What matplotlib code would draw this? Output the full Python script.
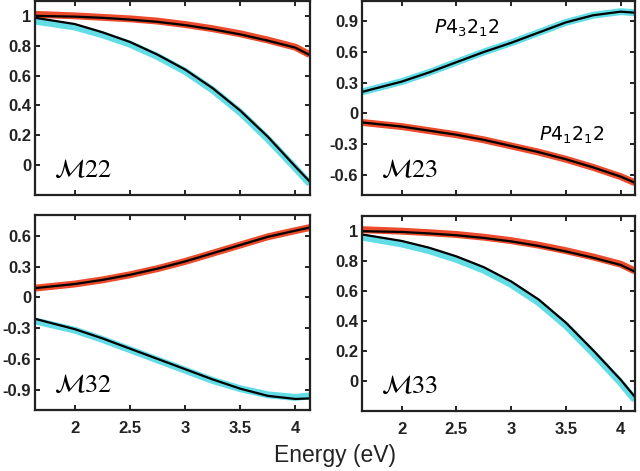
import matplotlib
matplotlib.use('Agg')
import matplotlib.pyplot as plt

plt.rcParams['font.family'] = ['Liberation Sans', 'DejaVu Sans']
plt.rcParams['mathtext.fontset'] = 'stix'

# photon energy (eV)
energy = [1.64, 2.0, 2.25, 2.5, 2.75, 3.0, 3.25, 3.5, 3.75, 4.0, 4.13]

# M22
m22_red = [1.01, 1.0, 0.99, 0.98, 0.965, 0.942, 0.914, 0.88, 0.838, 0.79, 0.74]
m22_red_fit = [1.0, 0.995, 0.987, 0.975, 0.96, 0.938, 0.91, 0.876, 0.834, 0.787, 0.737]
m22_cyan = [0.965, 0.925, 0.873, 0.81, 0.727, 0.628, 0.503, 0.353, 0.175, -0.02, -0.125]
m22_cyan_fit = [0.987, 0.945, 0.89, 0.825, 0.74, 0.64, 0.515, 0.365, 0.19, -0.01, -0.11]

# M23
m23_red = [-0.09, -0.13, -0.17, -0.21, -0.26, -0.32, -0.38, -0.45, -0.53, -0.62, -0.68]
m23_cyan = [0.21, 0.31, 0.40, 0.50, 0.60, 0.69, 0.79, 0.89, 0.96, 0.995, 0.985]

# M32
m32_red = [0.09, 0.13, 0.17, 0.22, 0.28, 0.35, 0.43, 0.51, 0.59, 0.65, 0.68]
m32_cyan = [-0.23, -0.32, -0.41, -0.51, -0.61, -0.71, -0.81, -0.89, -0.95, -0.975, -0.96]
m32_cyan_fit = [-0.21, -0.31, -0.40, -0.50, -0.60, -0.70, -0.80, -0.89, -0.96, -0.99, -0.985]

# M33
m33_red = [1.01, 1.0, 0.99, 0.978, 0.96, 0.937, 0.907, 0.87, 0.828, 0.78, 0.735]
m33_red_fit = [1.0, 0.995, 0.985, 0.973, 0.955, 0.932, 0.902, 0.865, 0.823, 0.775, 0.73]
m33_cyan = [0.96, 0.915, 0.87, 0.812, 0.74, 0.645, 0.525, 0.37, 0.185, -0.01, -0.125]
m33_cyan_fit = [0.978, 0.935, 0.89, 0.832, 0.76, 0.665, 0.545, 0.39, 0.205, 0.01, -0.105]

xticks = [2, 2.5, 3, 3.5, 4]
xticklabels = ['2', '2.5', '3', '3.5', '4']
yticks_22 = [0, 0.2, 0.4, 0.6, 0.8, 1]
yticklabels_22 = ['0', '0.2', '0.4', '0.6', '0.8', '1']
yticks_23 = [-0.6, -0.3, 0, 0.3, 0.6, 0.9]
yticklabels_23 = ['-0.6', '-0.3', '0', '0.3', '0.6', '0.9']
yticks_32 = [-0.9, -0.6, -0.3, 0, 0.3, 0.6]
yticklabels_32 = ['-0.9', '-0.6', '-0.3', '0', '0.3', '0.6']

RED = '#ec4a2a'
CYAN = '#62dde6'
FRAME = '#222222'

fig = plt.figure(figsize=(6.4, 4.71), dpi=100)
ax22 = fig.add_axes([0.055, 0.586, 0.429, 0.412])
ax23 = fig.add_axes([0.566, 0.586, 0.426, 0.412])
ax32 = fig.add_axes([0.055, 0.129, 0.429, 0.414])
ax33 = fig.add_axes([0.566, 0.127, 0.426, 0.414])


def draw(ax, red, red_fit, cyan, cyan_fit, ylim, yt, ytl, label, bottom):
    ax.plot(energy, red, color=RED, lw=5, solid_capstyle='butt')
    ax.plot(energy, cyan, color=CYAN, lw=5, solid_capstyle='butt')
    ax.plot(energy, red_fit, color='k', lw=1.6)
    ax.plot(energy, cyan_fit, color='k', lw=1.6)
    ax.set_xlim(1.64, 4.13)
    ax.set_ylim(*ylim)
    ax.set_yticks(yt)
    ax.set_yticklabels(ytl, fontweight='bold', fontsize=12, color=FRAME)
    ax.set_xticks(xticks)
    if bottom:
        ax.set_xticklabels(xticklabels, fontweight='bold', fontsize=12, color=FRAME)
    else:
        ax.set_xticklabels([])
    ax.tick_params(direction='in', length=3.5, width=1.4, top=True, right=True,
                   color=FRAME)
    ax.tick_params(axis='y', pad=3)
    ax.tick_params(axis='x', pad=8)
    for s in ax.spines.values():
        s.set_linewidth(1.6)
        s.set_color(FRAME)
    ax.text(0.07, 0.07, label, transform=ax.transAxes, fontsize=19,
            ha='left', va='bottom')


draw(ax22, m22_red, m22_red_fit, m22_cyan, m22_cyan_fit, (-0.2, 1.1),
     yticks_22, yticklabels_22, r'$\mathcal{M}\mathit{22}$', False)
draw(ax23, m23_red, m23_red, m23_cyan, m23_cyan, (-0.8, 1.1),
     yticks_23, yticklabels_23, r'$\mathcal{M}\mathit{23}$', False)
draw(ax32, m32_red, m32_red, m32_cyan, m32_cyan_fit, (-1.1, 0.8),
     yticks_32, yticklabels_32, r'$\mathcal{M}\mathit{32}$', True)
draw(ax33, m33_red, m33_red_fit, m33_cyan, m33_cyan_fit, (-0.2, 1.1),
     yticks_22, yticklabels_22, r'$\mathcal{M}\mathit{33}$', True)

ax23.text(2.59, 0.83, r'$P4_32_12$', fontsize=13.5, ha='center', va='center',
          math_fontfamily='dejavusans')
ax23.text(3.55, -0.22, r'$P4_12_12$', fontsize=13.5, ha='center', va='center',
          math_fontfamily='dejavusans')

fig.text(0.523, 0.033, 'Energy (eV)', ha='center', va='center', fontsize=16.5,
         color=FRAME)

fig.savefig('out.png', dpi=100)
